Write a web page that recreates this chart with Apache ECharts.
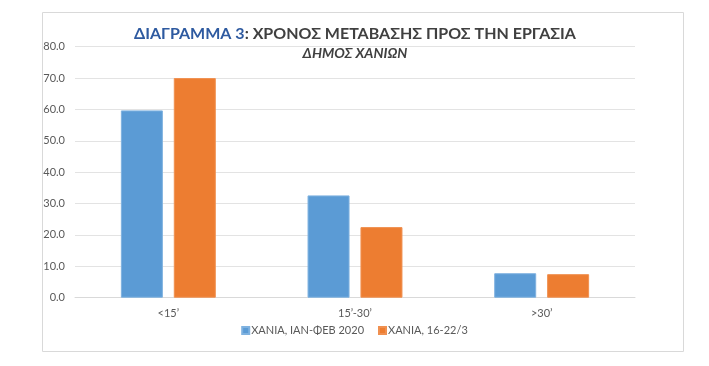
<!DOCTYPE html>
<html><head><meta charset="utf-8">
<script src="https://cdn.jsdelivr.net/npm/echarts@6/dist/echarts.min.js"></script>
<style>html,body{margin:0;padding:0;background:#fff;}#c{width:709px;height:366px;}</style>
</head><body><div id="c"></div>
<script>
const categories = ['<15\u2019', '15\u2019-30\u2019', '>30\u2019'];
const seriesNames = ['ΧΑΝΙΑ, ΙΑΝ-ΦΕΒ 2020', 'ΧΑΝΙΑ, 16-22/3'];
const janFeb = [59.7, 32.6, 7.8];
const march = [70.0, 22.5, 7.5];
const yTicks = { min: 0, max: 80, interval: 10 };

const chart = echarts.init(document.getElementById('c'), null, { renderer: 'canvas' });
const font = 'Lato, "Liberation Sans", sans-serif';
chart.setOption({
  animation: false,
  textStyle: { fontFamily: font },
  graphic: [{
    type: 'rect', left: 40, top: 10, shape: { width: 641, height: 339 },
    style: { fill: 'none', stroke: '#d9d9d9', lineWidth: 1 }, silent: true
  }],
  title: {
    text: '{a|ΔΙΑΓΡΑΜΜΑ 3}{b|: ΧΡΟΝΟΣ ΜΕΤΑΒΑΣΗΣ ΠΡΟΣ ΤΗΝ ΕΡΓΑΣΙΑ}',
    subtext: 'ΔΗΜΟΣ ΧΑΝΙΩΝ',
    left: 350, top: 21, textAlign: 'center', itemGap: 4,
    textStyle: {
      rich: {
        a: { fontFamily: font, fontSize: 16, fontWeight: 'bold', color: '#2E5AA0' },
        b: { fontFamily: font, fontSize: 16, fontWeight: 'bold', color: '#404040' }
      }
    },
    subtextStyle: { fontFamily: font, fontSize: 14, fontStyle: 'italic', fontWeight: 'bold', color: '#404040' }
  },
  legend: {
    data: seriesNames, bottom: 25, left: 'center',
    itemWidth: 7, itemHeight: 7, itemGap: 14, icon: 'rect',
    textStyle: { fontSize: 11, color: '#595959', fontFamily: font, padding: [0, 0, 0, -3] }
  },
  grid: { left: 75, right: 74, top: 46.7, bottom: 68.3, containLabel: false },
  xAxis: {
    type: 'category', data: categories,
    axisLine: { show: true, lineStyle: { color: '#d9d9d9' } },
    axisTick: { show: false },
    axisLabel: { color: '#595959', fontSize: 11, margin: 10, fontFamily: font }
  },
  yAxis: {
    type: 'value', min: yTicks.min, max: yTicks.max, interval: yTicks.interval,
    axisLine: { show: false }, axisTick: { show: false },
    splitLine: { lineStyle: { color: '#e3e3e3' } },
    axisLabel: { color: '#595959', fontSize: 11, margin: 10, fontFamily: font, formatter: v => v.toFixed(1) }
  },
  series: [
    { name: seriesNames[0], type: 'bar', data: janFeb, barWidth: 42, barGap: '26%',
      itemStyle: { color: '#5B9BD5', borderColor: '#7FB2E0', borderWidth: 1 } },
    { name: seriesNames[1], type: 'bar', data: march, barWidth: 42,
      itemStyle: { color: '#ED7D31', borderColor: '#F09050', borderWidth: 1 } }
  ]
});
</script></body></html>
